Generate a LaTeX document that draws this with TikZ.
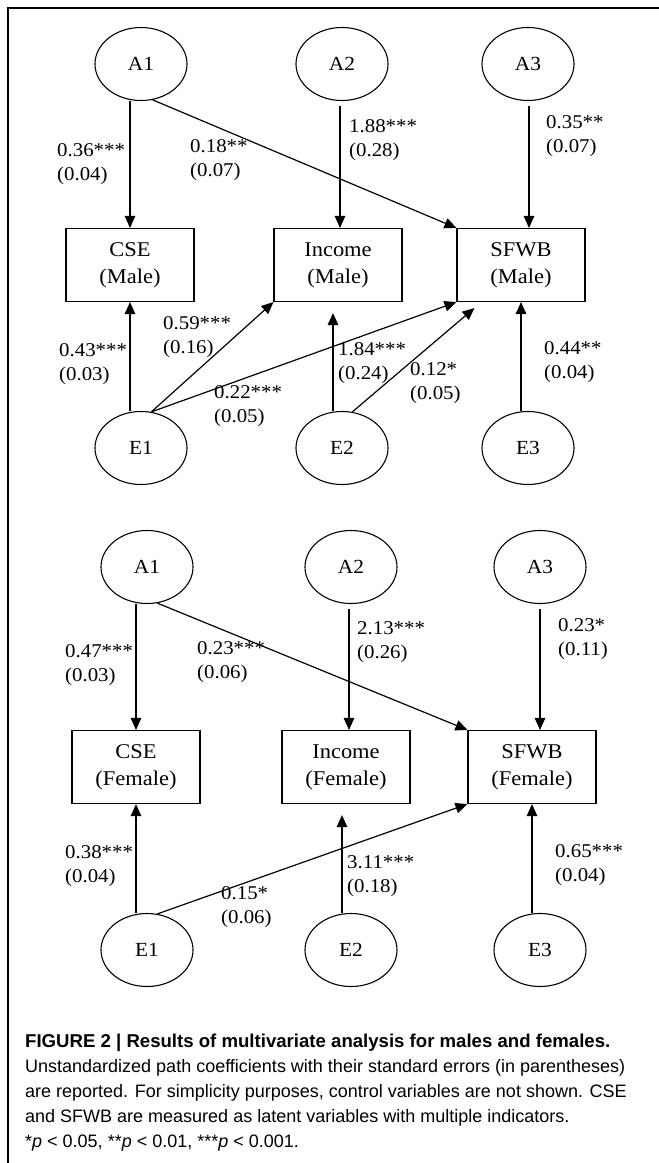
\documentclass[tikz,border=0pt]{standalone}
\usepackage{fontspec}
\setmainfont{Liberation Serif}[FakeStretch=1.07]
\newfontfamily\capfont{Liberation Sans}
\usepackage{tikz}
\usetikzlibrary{calc,shapes.geometric,arrows.meta}

\begin{document}
\begin{tikzpicture}[x=1pt,y=-1pt,
                latent/.style={draw, ellipse, line width=1.1pt, minimum width=92pt, minimum height=73pt, inner sep=0pt, font=\fontsize{20}{25}\selectfont},
                observed/.style={draw, rectangle, line width=1.1pt, minimum width=128pt, minimum height=73pt, inner sep=0pt, align=center, font=\fontsize{21}{27}\selectfont},
                coef/.style={anchor=west, align=left, inner sep=0pt, font=\fontsize{19.5}{24.5}\selectfont},
                effect/.style={line width=1.2pt, -{Triangle[length=12pt,width=10.5pt]}}]
                \useasboundingbox (0,0) rectangle (659,1163);
                \draw[line width=2.4pt] (8,1163) -- (8,8) -- (659,8);

                \node[latent] (A1m) at (141,64) {A1};
                \node[latent] (A2m) at (342,64) {A2};
                \node[latent] (A3m) at (528,64) {A3};
                \node[observed] (CSEm) at (130,265) {CSE\\(Male)};
                \node[observed] (Incm) at (338,265) {Income\\(Male)};
                \node[observed] (SFWBm) at (521,265) {SFWB\\(Male)};
                \node[latent] (E1m) at (141,448) {E1};
                \node[latent] (E2m) at (342,448) {E2};
                \node[latent] (E3m) at (528,448) {E3};

                \coordinate (fromA2m) at ($(A2m.south)+(-2,5)$);
                \coordinate (fromA3m) at ($(A3m.south)+(1,5)$);
                \coordinate (gapIm) at ($(Incm.south)+(-5,11)$);
                \draw[effect] (A1m.south -| CSEm.north) -- (CSEm.north);
                \draw[effect] (A1m.-72) -- (SFWBm.north west);
                \draw[effect] (fromA2m) -- (fromA2m |- Incm.north);
                \draw[effect] (fromA3m) -- (fromA3m |- SFWBm.north);
                \draw[effect] (E1m.north -| CSEm.south) -- (CSEm.south);
                \draw[effect] (E1m.74) -- (Incm.south west);
                \draw[effect] (E1m.74) -- (SFWBm.south west);
                \draw[effect] (E2m.north -| gapIm) -- (gapIm);
                \draw[effect] (E2m.74) -- ($(SFWBm.south west)+(18,6)$);
                \draw[effect] (E3m.north -| SFWBm.south) -- (SFWBm.south);

                \node[coef] (c1m) at (57,164) {0.36***\\(0.04)};
                \node[coef] (c2m) at (190,160) {0.18**\\(0.07)};
                \node[coef] (c3m) at (349,140) {1.88***\\(0.28)};
                \node[coef] (c4m) at (546,136) {0.35**\\(0.07)};
                \node[coef] (c5m) at (163,337) {0.59***\\(0.16)};
                \node[coef] (c6m) at (59,364) {0.43***\\(0.03)};
                \node[coef] (c7m) at (214,406) {0.22***\\(0.05)};
                \node[coef] (c8m) at (338,363) {1.84***\\(0.24)};
                \node[coef] (c9m) at (410,383) {0.12*\\(0.05)};
                \node[coef] (c10m) at (544,362) {0.44**\\(0.04)};

                \node[latent] (A1f) at (147,567) {A1};
                \node[latent] (A2f) at (351,567) {A2};
                \node[latent] (A3f) at (540,567) {A3};
                \node[observed] (CSEf) at (136,767) {CSE\\(Female)};
                \node[observed] (Incf) at (346,767) {Income\\(Female)};
                \node[observed] (SFWBf) at (532,767) {SFWB\\(Female)};
                \node[latent] (E1f) at (147,950) {E1};
                \node[latent] (E2f) at (351,950) {E2};
                \node[latent] (E3f) at (540,950) {E3};

                \coordinate (fromA2f) at ($(A2f.south)+(-2,5)$);
                \coordinate (fromA3f) at ($(A3f.south)+(0,5)$);
                \coordinate (gapIf) at ($(Incf.south)+(-4,11)$);
                \draw[effect] (A1f.south -| CSEf.north) -- (CSEf.north);
                \draw[effect] (A1f.-74) -- (SFWBf.north west);
                \draw[effect] (fromA2f) -- (fromA2f |- Incf.north);
                \draw[effect] (fromA3f) -- (fromA3f |- SFWBf.north);
                \draw[effect] (E1f.north -| CSEf.south) -- (CSEf.south);
                \draw[effect] (E1f.74) -- (SFWBf.south west);
                \draw[effect] (E2f.north -| gapIf) -- (gapIf);
                \draw[effect] (E3f.north -| SFWBf.south) -- (SFWBf.south);

                \node[coef] (c1f) at (65,665) {0.47***\\(0.03)};
                \node[coef] (c2f) at (197,662) {0.23***\\(0.06)};
                \node[coef] (c3f) at (357,642) {2.13***\\(0.26)};
                \node[coef] (c4f) at (558,639) {0.23*\\(0.11)};
                \node[coef] (c5f) at (65,866) {0.38***\\(0.04)};
                \node[coef] (c6f) at (347,876) {3.11***\\(0.18)};
                \node[coef] (c7f) at (221,907) {0.15*\\(0.06)};
                \node[coef] (c8f) at (555,865) {0.65***\\(0.04)};

                \node[anchor=west, align=left, inner sep=0pt, font=\capfont\fontsize{18}{25}\selectfont] (caption) at (25,1093)
                    {{\fontsize{18.6}{25}\selectfont\textbf{FIGURE 2 | Results of multivariate analysis for males and females.}}\\
                     Unstandardized path coefficients with their standard errors (in parentheses)\\
                     are reported. For simplicity purposes, control variables are not shown. CSE\\
                     and SFWB are measured as latent variables with multiple indicators.\\
                     *\textit{p} < 0.05, **\textit{p} < 0.01, ***\textit{p} < 0.001.};
\end{tikzpicture}
\end{document}
